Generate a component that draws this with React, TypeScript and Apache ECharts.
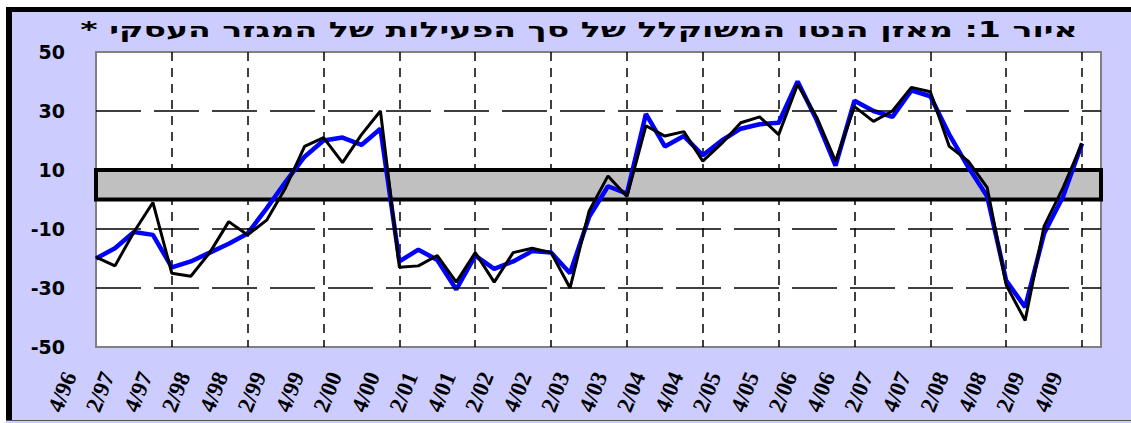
import React, { useEffect, useRef } from "react";
import * as echarts from "echarts";

const titleText = "איור 1: מאזן הנטו המשוקלל של סך הפעילות של המגזר העסקי *\u200F";

const categories = [
  "4/96",
  "1/97", "2/97", "3/97", "4/97",
  "1/98", "2/98", "3/98", "4/98",
  "1/99", "2/99", "3/99", "4/99",
  "1/00", "2/00", "3/00", "4/00",
  "1/01", "2/01", "3/01", "4/01",
  "1/02", "2/02", "3/02", "4/02",
  "1/03", "2/03", "3/03", "4/03",
  "1/04", "2/04", "3/04", "4/04",
  "1/05", "2/05", "3/05", "4/05",
  "1/06", "2/06", "3/06", "4/06",
  "1/07", "2/07", "3/07", "4/07",
  "1/08", "2/08", "3/08", "4/08",
  "1/09", "2/09", "3/09", "4/09",
  "1/10",
];

const blueValues = [
  -20, -16.5, -11, -12, -23, -21, -18, -15, -11.5, -3, 6, 14.5, 20, 21, 18.5, 24,
  -21, -17, -20.5, -30.5, -19, -23.5, -21, -17.5, -18, -25, -6, 4.5, 2,
  29, 18, 21.5, 15, 20, 24, 25.5, 26, 40, 27, 11.5, 33.5, 30, 28, 37, 35,
  22, 11, 1, -27.5, -36.5, -11.5, 1, 19,
];

const blackValues = [
  -19.5, -22.5, -11, -1, -25, -26, -18, -7.5, -12, -7, 4, 18, 21, 12.5, 22, 30,
  -23, -22.5, -19, -28, -18, -28, -18, -16.5, -18, -30, -4, 8, 1,
  25, 21.5, 23, 13, 19, 26, 28, 22, 39, 28, 13, 31.5, 26.5, 30, 38, 36.5,
  18, 13, 4, -29, -41, -9, 4, 19,
];

const bandRange = [0, 10];
const gridValues = [30, -10, -30];

export default function App() {
  const ref = useRef<HTMLDivElement>(null);

  useEffect(() => {
    if (!ref.current) return;
    const chart = echarts.init(ref.current, undefined, { renderer: "svg" });
    const yearTick = (i: number) => i % 4 === 0 && i > 0 && i <= 52;
    const labelTick = (i: number) => i % 2 === 0 && i <= 52;

    chart.setOption({
      animation: false,
      backgroundColor: "#CCCCFF",
      graphic: [
        { type: "rect", shape: { x: 0, y: 0, width: 1131, height: 7 }, style: { fill: "#fff" } },
        { type: "rect", shape: { x: 0, y: 0, width: 6, height: 423 }, style: { fill: "#fff" } },
        { type: "rect", shape: { x: 6, y: 7, width: 1125, height: 5 }, style: { fill: "#000" } },
        { type: "rect", shape: { x: 6, y: 7, width: 6, height: 414 }, style: { fill: "#000" } },
        { type: "rect", shape: { x: 6, y: 420, width: 1125, height: 1 }, style: { fill: "#555" } },
        {
          type: "text",
          x: 579,
          y: 30,
          scaleX: 1.58,
          style: {
            text: titleText,
            font: 'bold 21px "DejaVu Sans"',
            fill: "#000",
            align: "center",
            verticalAlign: "middle",
            textAlign: "center",
            textVerticalAlign: "middle",
          },
        },
      ],
      grid: [
        {
          left: 96,
          top: 52,
          width: 1005,
          height: 295,
          show: true,
          backgroundColor: "#fff",
          borderColor: "#808080",
          borderWidth: 2,
          containLabel: false,
          outerBoundsMode: "none",
        },
        {
          left: 70,
          top: 52,
          width: 1005,
          height: 295,
          show: false,
          containLabel: false,
          outerBoundsMode: "none",
        },
      ],
      xAxis: [
        {
          type: "category",
          gridIndex: 0,
          data: categories,
          boundaryGap: false,
          axisLine: { show: false },
          axisTick: {
            show: true,
            inside: true,
            length: 4,
            interval: yearTick,
            lineStyle: { color: "#000" },
          },
          axisLabel: { show: false },
          splitLine: {
            show: true,
            interval: yearTick,
            lineStyle: { color: "#000", width: 1.5, type: [9, 7] },
          },
        },
        {
          type: "category",
          gridIndex: 1,
          data: categories,
          boundaryGap: false,
          axisLine: { show: false },
          axisTick: { show: false },
          splitLine: { show: false },
          axisLabel: {
            interval: labelTick,
            rotate: 68,
            margin: 26,
            hideOverlap: false,
            overflow: "none",
            fontFamily: "Liberation Serif",
            fontWeight: "bold",
            fontSize: 23,
            color: "#000",
          },
        },
      ],
      yAxis: [
        {
          type: "value",
          gridIndex: 0,
          min: -50,
          max: 50,
          interval: 10,
          axisLine: { show: false },
          axisTick: { show: false },
          splitLine: { show: false },
          axisLabel: {
            margin: 31,
            fontFamily: "DejaVu Sans",
            fontWeight: "bold",
            fontSize: 19,
            color: "#000",
            formatter: (v: number) => ((v + 50) % 20 === 0 ? String(v) : ""),
          },
        },
        { type: "value", gridIndex: 1, min: -50, max: 50, show: false },
      ],
      series: [
        {
          type: "line",
          xAxisIndex: 0,
          yAxisIndex: 0,
          data: [],
          z: 1,
          markArea: {
            silent: true,
            itemStyle: { color: "#C0C0C0", borderColor: "#000", borderWidth: 4 },
            data: [[{ yAxis: bandRange[0] }, { yAxis: bandRange[1] }]],
          },
          markLine: {
            silent: true,
            symbol: ["none", "none"],
            label: { show: false },
            lineStyle: { color: "#000", width: 1.5, type: [45, 13] },
            data: gridValues.map((v) => ({ yAxis: v })),
          },
        },
        {
          type: "line",
          xAxisIndex: 0,
          yAxisIndex: 0,
          data: blueValues,
          symbol: "none",
          z: 3,
          lineStyle: { color: "#0000FF", width: 4.5 },
        },
        {
          type: "line",
          xAxisIndex: 0,
          yAxisIndex: 0,
          data: blackValues,
          symbol: "none",
          z: 4,
          lineStyle: { color: "#000", width: 3 },
        },
      ],
    });

    return () => chart.dispose();
  }, []);

  return (
    <div
      ref={ref}
      style={{ position: "fixed", left: 0, top: 0, width: 1131, height: 423 }}
    />
  );
}
